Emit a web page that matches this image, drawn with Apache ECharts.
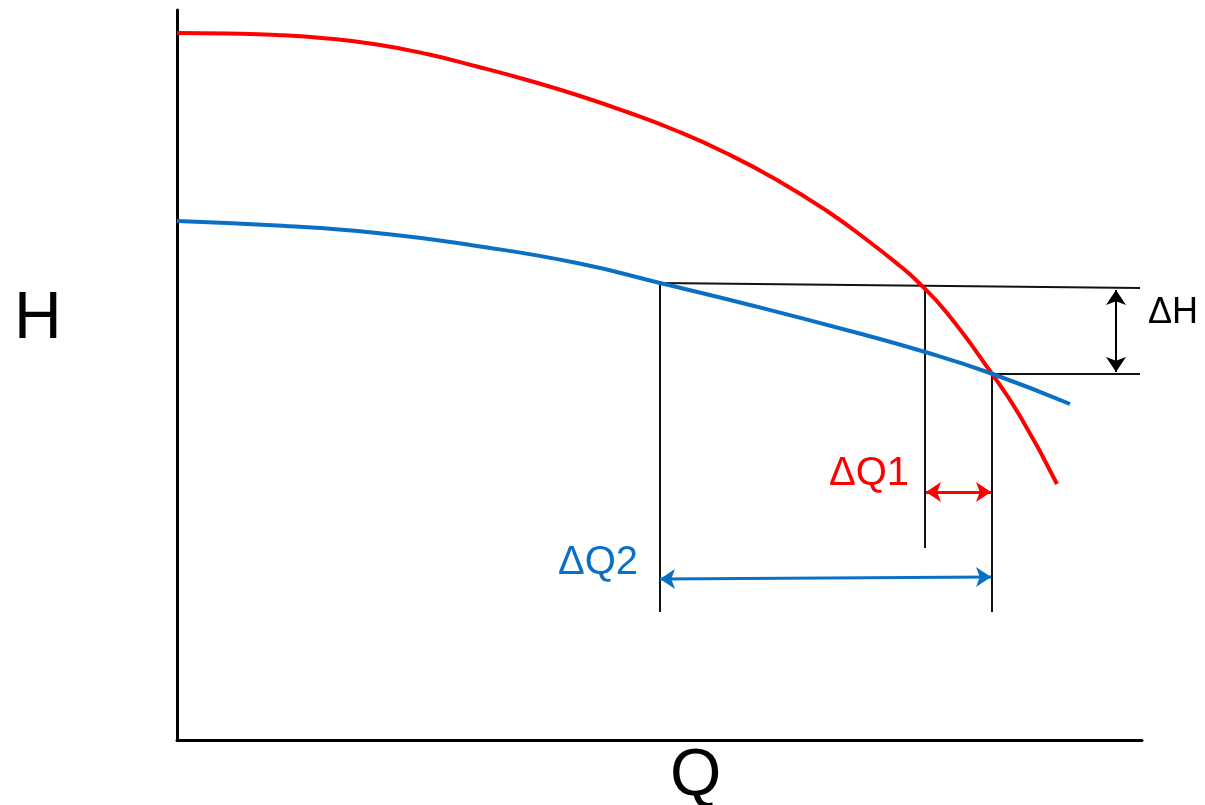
<!DOCTYPE html>
<html>
<head>
<meta charset="utf-8">
<script src="https://cdn.jsdelivr.net/npm/echarts@6/dist/echarts.min.js"></script>
<style>
  html, body { margin: 0; padding: 0; background: #fff; }
  #main { width: 1205px; height: 805px; }
</style>
</head>
<body>
<div id="main"></div>
<script>
// curve data (Q, H), in plot units
var curveRed = [[0, 707], [50, 706.5], [100, 705], [150, 701.5], [200, 695.5], [250, 686], [300, 673.5],
    [350, 660], [400, 645], [450, 628], [500, 609], [550, 586.5], [600, 560], [650, 529],
    [690, 500], [723, 474], [740, 459], [770, 427], [813, 369], [843, 324], [880, 256]];
var curveBlue = [[0, 519], [100, 514.5], [200, 507], [300, 494], [400, 477], [483, 457],
    [573, 435], [673, 409], [748, 388], [813, 367], [893, 336]];

// helper lines
var guideLines = [
    [[483, 457], [963, 452]],
    [[813, 366], [963, 366]],
    [[483, 457], [483, 128]],
    [[748, 452], [748, 192]],
    [[815, 366], [815, 128]]
];
var arrowH = [[939, 450], [939, 368]];
var arrowQ1 = [[749, 248], [814, 248]];
var arrowQ2 = [[483, 161], [814, 163]];

// labels: Q, H, text
var labelsBlack = [[996, 427, 'ΔH']];
var labelsRed = [[692, 266, 'ΔQ1']];
var labelsBlue = [[421, 177, 'ΔQ2']];

var FONT = '"Liberation Sans", Arial, sans-serif';
var RED = '#ff0000';
var BLUE = '#0a70c6';

var chart = echarts.init(document.getElementById('main'));

function segs(list) {
    return list.map(function (s) { return { coords: s }; });
}

function textSeries(list, color, size) {
    return {
        type: 'scatter',
        symbolSize: 0,
        clip: false,
        silent: true,
        itemStyle: { opacity: 1 },
        data: list.map(function (d) { return [d[0], d[1]]; }),
        label: {
            show: true,
            position: 'inside',
            color: color,
            opacity: 1,
            fontSize: size,
            fontFamily: FONT,
            formatter: function (p) { return list[p.dataIndex][2]; }
        },
        z: 5
    };
}

function arrowSeries(seg, color, width) {
    return {
        type: 'lines', coordinateSystem: 'cartesian2d',
        symbol: ['arrow', 'arrow'], symbolSize: 15,
        lineStyle: { color: color, width: width, opacity: 1 },
        data: segs([seg]), z: 4
    };
}

var option = {
    animation: false,
    backgroundColor: '#fff',
    grid: { left: 177, right: 63, top: 10, bottom: 65 },
    xAxis: {
        type: 'value', min: 0, max: 965,
        axisLine: { onZero: false, lineStyle: { color: '#000', width: 3 } },
        axisTick: { show: false }, axisLabel: { show: false }, splitLine: { show: false }
    },
    yAxis: {
        type: 'value', min: 0, max: 730,
        axisLine: { show: true, onZero: false, lineStyle: { color: '#000', width: 3 } },
        axisTick: { show: false }, axisLabel: { show: false }, splitLine: { show: false }
    },
    graphic: [
        { type: 'text', left: 14, top: 287, style: { text: 'H', fontSize: 66, fontFamily: FONT, fill: '#000' } },
        { type: 'text', left: 670, top: 744, style: { text: 'Q', fontSize: 66, fontFamily: FONT, fill: '#000' } }
    ],
    series: [
        {
            type: 'line', smooth: 0.5, showSymbol: false, data: curveRed,
            lineStyle: { color: RED, width: 4 }, z: 3
        },
        {
            type: 'line', smooth: 0.5, showSymbol: false, data: curveBlue,
            lineStyle: { color: BLUE, width: 4 }, z: 3
        },
        {
            type: 'lines', coordinateSystem: 'cartesian2d', symbol: 'none',
            lineStyle: { color: '#111', width: 2, opacity: 1 },
            data: segs(guideLines), z: 2
        },
        arrowSeries(arrowH, '#000', 2),
        arrowSeries(arrowQ1, RED, 3),
        arrowSeries(arrowQ2, BLUE, 3),
        textSeries(labelsBlack, '#000', 36),
        textSeries(labelsRed, RED, 40),
        textSeries(labelsBlue, BLUE, 40)
    ]
};

chart.setOption(option);
</script>
</body>
</html>
